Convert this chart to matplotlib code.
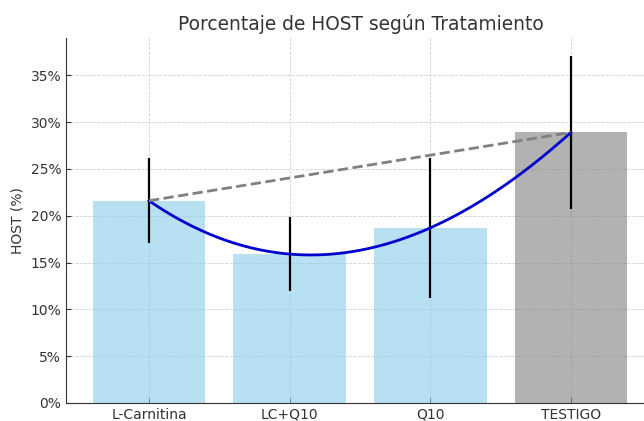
import numpy as np
import matplotlib
matplotlib.use("Agg")
import matplotlib.pyplot as plt
from matplotlib.ticker import FuncFormatter

categories = ["L-Carnitina", "LC+Q10", "Q10", "TESTIGO"]
host_values = [21.6, 15.9, 18.7, 28.9]
host_errors = [4.55, 3.95, 7.5, 8.2]
bar_colors = ["skyblue", "skyblue", "skyblue", "gray"]

txt = "#333333"
plt.rcParams.update({
    "text.color": txt, "axes.labelcolor": txt,
    "xtick.color": txt, "ytick.color": txt,
    "xtick.direction": "in", "ytick.direction": "in",
    "axes.edgecolor": txt,
})

fig = plt.figure(figsize=(6.44, 4.21), dpi=100)
ax = fig.add_axes([0.1025, 0.043, 0.915, 0.867])

x = np.arange(len(categories))
ax.bar(x, host_values, width=0.8, color=bar_colors, alpha=0.6, zorder=2)
ax.errorbar(x, host_values, yerr=host_errors, fmt="none", ecolor="black", elinewidth=1.6, capsize=0, zorder=3)

# smooth trend through bar tops
coef = np.polyfit(x, host_values, 3)
xs = np.linspace(x[0], x[-1], 200)
ax.plot(xs, np.polyval(coef, xs), color="mediumblue", lw=2, zorder=4)
# dashed line from first to last
ax.plot([x[0], x[-1]], [host_values[0], host_values[-1]], color="gray", lw=2, ls="--", zorder=4)

ax.set_xticks(x)
ax.set_xticklabels(categories)
ax.set_yticks(np.arange(0, 40, 5))
ax.yaxis.set_major_formatter(FuncFormatter(lambda v, p: f"{v:.0f}%"))
ax.tick_params(labelsize=10, length=3.5, width=0.8)
ax.set_ylim(0, 39)
ax.set_xlim(-0.59, 3.6)
ax.set_ylabel("HOST (%)", fontsize=10)
ax.set_title("Porcentaje de HOST según Tratamiento", fontsize=13.4)
ax.grid(True, ls="--", color="#d0d0d0", lw=0.6, zorder=0)
ax.set_axisbelow(True)
ax.spines["top"].set_visible(False)
ax.spines["right"].set_visible(False)

fig.savefig("out.png", dpi=100)
